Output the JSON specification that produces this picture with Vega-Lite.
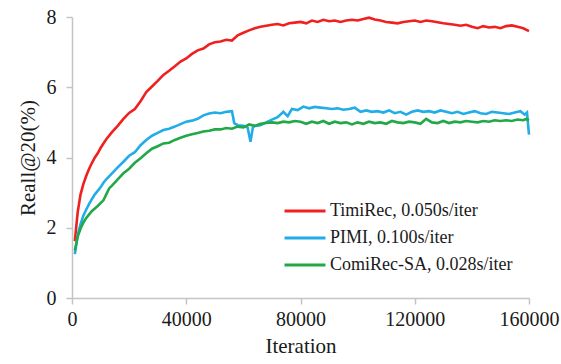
{
  "$schema": "https://vega.github.io/schema/vega-lite/v6.json",
  "autosize": {"type": "none"},
  "width": 457,
  "height": 281,
  "padding": {"left": 72, "top": 17, "right": 32, "bottom": 66},
  "background": "white",
  "config": {
    "view": {"stroke": null},
    "font": "Liberation Serif",
    "axis": {
      "grid": false,
      "domainColor": "#c4c4c4",
      "domainWidth": 1.5,
      "tickColor": "#c4c4c4",
      "tickWidth": 1.5,
      "tickSize": 6,
      "labelFont": "Liberation Serif",
      "labelFontSize": 20,
      "labelColor": "#1a1a1a",
      "titleFont": "Liberation Serif",
      "titleFontSize": 21,
      "titleFontWeight": "normal",
      "titleColor": "#1a1a1a"
    }
  },
  "datasets": {
    "d": [
      {"s":"TimiRec, 0.050s/iter","x":1000,"y":1.62},{"s":"TimiRec, 0.050s/iter","x":2000,"y":2.45},{"s":"TimiRec, 0.050s/iter","x":3000,"y":2.95},{"s":"TimiRec, 0.050s/iter","x":4000,"y":3.25},{"s":"TimiRec, 0.050s/iter","x":5000,"y":3.48},{"s":"TimiRec, 0.050s/iter","x":6000,"y":3.68},{"s":"TimiRec, 0.050s/iter","x":7000,"y":3.85},{"s":"TimiRec, 0.050s/iter","x":8000,"y":4.0},{"s":"TimiRec, 0.050s/iter","x":9000,"y":4.12},{"s":"TimiRec, 0.050s/iter","x":10000,"y":4.27},{"s":"TimiRec, 0.050s/iter","x":11000,"y":4.4},{"s":"TimiRec, 0.050s/iter","x":12000,"y":4.52},{"s":"TimiRec, 0.050s/iter","x":14000,"y":4.72},{"s":"TimiRec, 0.050s/iter","x":16000,"y":4.9},{"s":"TimiRec, 0.050s/iter","x":18000,"y":5.1},{"s":"TimiRec, 0.050s/iter","x":20000,"y":5.27},{"s":"TimiRec, 0.050s/iter","x":22000,"y":5.38},{"s":"TimiRec, 0.050s/iter","x":24000,"y":5.6},{"s":"TimiRec, 0.050s/iter","x":26000,"y":5.86},{"s":"TimiRec, 0.050s/iter","x":28000,"y":6.02},{"s":"TimiRec, 0.050s/iter","x":30000,"y":6.18},{"s":"TimiRec, 0.050s/iter","x":32000,"y":6.35},{"s":"TimiRec, 0.050s/iter","x":34000,"y":6.47},{"s":"TimiRec, 0.050s/iter","x":36000,"y":6.6},{"s":"TimiRec, 0.050s/iter","x":38000,"y":6.73},{"s":"TimiRec, 0.050s/iter","x":40000,"y":6.82},{"s":"TimiRec, 0.050s/iter","x":42000,"y":6.95},{"s":"TimiRec, 0.050s/iter","x":44000,"y":7.05},{"s":"TimiRec, 0.050s/iter","x":46000,"y":7.1},{"s":"TimiRec, 0.050s/iter","x":48000,"y":7.22},{"s":"TimiRec, 0.050s/iter","x":50000,"y":7.28},{"s":"TimiRec, 0.050s/iter","x":52000,"y":7.3},{"s":"TimiRec, 0.050s/iter","x":54000,"y":7.35},{"s":"TimiRec, 0.050s/iter","x":56000,"y":7.33},{"s":"TimiRec, 0.050s/iter","x":58000,"y":7.48},{"s":"TimiRec, 0.050s/iter","x":60000,"y":7.55},{"s":"TimiRec, 0.050s/iter","x":62000,"y":7.62},{"s":"TimiRec, 0.050s/iter","x":64000,"y":7.68},{"s":"TimiRec, 0.050s/iter","x":66000,"y":7.72},{"s":"TimiRec, 0.050s/iter","x":68000,"y":7.75},{"s":"TimiRec, 0.050s/iter","x":70000,"y":7.78},{"s":"TimiRec, 0.050s/iter","x":72000,"y":7.8},{"s":"TimiRec, 0.050s/iter","x":74000,"y":7.76},{"s":"TimiRec, 0.050s/iter","x":76000,"y":7.82},{"s":"TimiRec, 0.050s/iter","x":78000,"y":7.84},{"s":"TimiRec, 0.050s/iter","x":80000,"y":7.86},{"s":"TimiRec, 0.050s/iter","x":82000,"y":7.82},{"s":"TimiRec, 0.050s/iter","x":84000,"y":7.9},{"s":"TimiRec, 0.050s/iter","x":86000,"y":7.86},{"s":"TimiRec, 0.050s/iter","x":88000,"y":7.92},{"s":"TimiRec, 0.050s/iter","x":90000,"y":7.88},{"s":"TimiRec, 0.050s/iter","x":92000,"y":7.9},{"s":"TimiRec, 0.050s/iter","x":94000,"y":7.86},{"s":"TimiRec, 0.050s/iter","x":96000,"y":7.9},{"s":"TimiRec, 0.050s/iter","x":98000,"y":7.92},{"s":"TimiRec, 0.050s/iter","x":100000,"y":7.9},{"s":"TimiRec, 0.050s/iter","x":102000,"y":7.94},{"s":"TimiRec, 0.050s/iter","x":104000,"y":7.98},{"s":"TimiRec, 0.050s/iter","x":106000,"y":7.93},{"s":"TimiRec, 0.050s/iter","x":108000,"y":7.9},{"s":"TimiRec, 0.050s/iter","x":110000,"y":7.86},{"s":"TimiRec, 0.050s/iter","x":112000,"y":7.84},{"s":"TimiRec, 0.050s/iter","x":114000,"y":7.82},{"s":"TimiRec, 0.050s/iter","x":116000,"y":7.86},{"s":"TimiRec, 0.050s/iter","x":118000,"y":7.88},{"s":"TimiRec, 0.050s/iter","x":120000,"y":7.9},{"s":"TimiRec, 0.050s/iter","x":122000,"y":7.86},{"s":"TimiRec, 0.050s/iter","x":124000,"y":7.9},{"s":"TimiRec, 0.050s/iter","x":126000,"y":7.88},{"s":"TimiRec, 0.050s/iter","x":128000,"y":7.85},{"s":"TimiRec, 0.050s/iter","x":130000,"y":7.82},{"s":"TimiRec, 0.050s/iter","x":132000,"y":7.8},{"s":"TimiRec, 0.050s/iter","x":134000,"y":7.78},{"s":"TimiRec, 0.050s/iter","x":136000,"y":7.75},{"s":"TimiRec, 0.050s/iter","x":138000,"y":7.78},{"s":"TimiRec, 0.050s/iter","x":140000,"y":7.72},{"s":"TimiRec, 0.050s/iter","x":142000,"y":7.68},{"s":"TimiRec, 0.050s/iter","x":144000,"y":7.74},{"s":"TimiRec, 0.050s/iter","x":146000,"y":7.7},{"s":"TimiRec, 0.050s/iter","x":148000,"y":7.72},{"s":"TimiRec, 0.050s/iter","x":150000,"y":7.68},{"s":"TimiRec, 0.050s/iter","x":152000,"y":7.74},{"s":"TimiRec, 0.050s/iter","x":154000,"y":7.76},{"s":"TimiRec, 0.050s/iter","x":156000,"y":7.72},{"s":"TimiRec, 0.050s/iter","x":158000,"y":7.68},{"s":"TimiRec, 0.050s/iter","x":160000,"y":7.6},
      {"s":"PIMI, 0.100s/iter","x":1000,"y":1.25},{"s":"PIMI, 0.100s/iter","x":2000,"y":1.8},{"s":"PIMI, 0.100s/iter","x":3000,"y":2.1},{"s":"PIMI, 0.100s/iter","x":4000,"y":2.35},{"s":"PIMI, 0.100s/iter","x":5000,"y":2.52},{"s":"PIMI, 0.100s/iter","x":6000,"y":2.68},{"s":"PIMI, 0.100s/iter","x":7000,"y":2.82},{"s":"PIMI, 0.100s/iter","x":8000,"y":2.95},{"s":"PIMI, 0.100s/iter","x":9000,"y":3.05},{"s":"PIMI, 0.100s/iter","x":10000,"y":3.15},{"s":"PIMI, 0.100s/iter","x":11000,"y":3.28},{"s":"PIMI, 0.100s/iter","x":12000,"y":3.38},{"s":"PIMI, 0.100s/iter","x":14000,"y":3.55},{"s":"PIMI, 0.100s/iter","x":16000,"y":3.72},{"s":"PIMI, 0.100s/iter","x":18000,"y":3.88},{"s":"PIMI, 0.100s/iter","x":20000,"y":4.05},{"s":"PIMI, 0.100s/iter","x":22000,"y":4.15},{"s":"PIMI, 0.100s/iter","x":24000,"y":4.35},{"s":"PIMI, 0.100s/iter","x":26000,"y":4.5},{"s":"PIMI, 0.100s/iter","x":28000,"y":4.62},{"s":"PIMI, 0.100s/iter","x":30000,"y":4.7},{"s":"PIMI, 0.100s/iter","x":32000,"y":4.78},{"s":"PIMI, 0.100s/iter","x":34000,"y":4.82},{"s":"PIMI, 0.100s/iter","x":36000,"y":4.88},{"s":"PIMI, 0.100s/iter","x":38000,"y":4.95},{"s":"PIMI, 0.100s/iter","x":40000,"y":5.02},{"s":"PIMI, 0.100s/iter","x":42000,"y":5.05},{"s":"PIMI, 0.100s/iter","x":44000,"y":5.1},{"s":"PIMI, 0.100s/iter","x":46000,"y":5.2},{"s":"PIMI, 0.100s/iter","x":48000,"y":5.25},{"s":"PIMI, 0.100s/iter","x":50000,"y":5.28},{"s":"PIMI, 0.100s/iter","x":52000,"y":5.26},{"s":"PIMI, 0.100s/iter","x":54000,"y":5.3},{"s":"PIMI, 0.100s/iter","x":56000,"y":5.32},{"s":"PIMI, 0.100s/iter","x":56800,"y":4.98},{"s":"PIMI, 0.100s/iter","x":58000,"y":4.92},{"s":"PIMI, 0.100s/iter","x":60000,"y":4.9},{"s":"PIMI, 0.100s/iter","x":61500,"y":4.85},{"s":"PIMI, 0.100s/iter","x":62500,"y":4.45},{"s":"PIMI, 0.100s/iter","x":63300,"y":4.85},{"s":"PIMI, 0.100s/iter","x":64000,"y":4.9},{"s":"PIMI, 0.100s/iter","x":66000,"y":4.92},{"s":"PIMI, 0.100s/iter","x":68000,"y":5.0},{"s":"PIMI, 0.100s/iter","x":70000,"y":5.08},{"s":"PIMI, 0.100s/iter","x":72000,"y":5.15},{"s":"PIMI, 0.100s/iter","x":74000,"y":5.3},{"s":"PIMI, 0.100s/iter","x":75500,"y":5.18},{"s":"PIMI, 0.100s/iter","x":77000,"y":5.38},{"s":"PIMI, 0.100s/iter","x":79000,"y":5.35},{"s":"PIMI, 0.100s/iter","x":81000,"y":5.45},{"s":"PIMI, 0.100s/iter","x":83000,"y":5.4},{"s":"PIMI, 0.100s/iter","x":85000,"y":5.44},{"s":"PIMI, 0.100s/iter","x":87000,"y":5.42},{"s":"PIMI, 0.100s/iter","x":89000,"y":5.4},{"s":"PIMI, 0.100s/iter","x":91000,"y":5.38},{"s":"PIMI, 0.100s/iter","x":93000,"y":5.4},{"s":"PIMI, 0.100s/iter","x":95000,"y":5.36},{"s":"PIMI, 0.100s/iter","x":97000,"y":5.38},{"s":"PIMI, 0.100s/iter","x":99000,"y":5.42},{"s":"PIMI, 0.100s/iter","x":101000,"y":5.3},{"s":"PIMI, 0.100s/iter","x":103000,"y":5.34},{"s":"PIMI, 0.100s/iter","x":105000,"y":5.3},{"s":"PIMI, 0.100s/iter","x":107000,"y":5.32},{"s":"PIMI, 0.100s/iter","x":109000,"y":5.28},{"s":"PIMI, 0.100s/iter","x":111000,"y":5.34},{"s":"PIMI, 0.100s/iter","x":113000,"y":5.26},{"s":"PIMI, 0.100s/iter","x":115000,"y":5.3},{"s":"PIMI, 0.100s/iter","x":117000,"y":5.22},{"s":"PIMI, 0.100s/iter","x":119000,"y":5.3},{"s":"PIMI, 0.100s/iter","x":121000,"y":5.34},{"s":"PIMI, 0.100s/iter","x":123000,"y":5.3},{"s":"PIMI, 0.100s/iter","x":125000,"y":5.32},{"s":"PIMI, 0.100s/iter","x":127000,"y":5.28},{"s":"PIMI, 0.100s/iter","x":129000,"y":5.34},{"s":"PIMI, 0.100s/iter","x":131000,"y":5.3},{"s":"PIMI, 0.100s/iter","x":133000,"y":5.26},{"s":"PIMI, 0.100s/iter","x":135000,"y":5.3},{"s":"PIMI, 0.100s/iter","x":137000,"y":5.24},{"s":"PIMI, 0.100s/iter","x":139000,"y":5.28},{"s":"PIMI, 0.100s/iter","x":141000,"y":5.32},{"s":"PIMI, 0.100s/iter","x":143000,"y":5.26},{"s":"PIMI, 0.100s/iter","x":145000,"y":5.24},{"s":"PIMI, 0.100s/iter","x":147000,"y":5.3},{"s":"PIMI, 0.100s/iter","x":149000,"y":5.28},{"s":"PIMI, 0.100s/iter","x":151000,"y":5.26},{"s":"PIMI, 0.100s/iter","x":153000,"y":5.24},{"s":"PIMI, 0.100s/iter","x":155000,"y":5.28},{"s":"PIMI, 0.100s/iter","x":157000,"y":5.32},{"s":"PIMI, 0.100s/iter","x":158500,"y":5.22},{"s":"PIMI, 0.100s/iter","x":159300,"y":5.28},{"s":"PIMI, 0.100s/iter","x":160000,"y":4.65},
      {"s":"ComiRec-SA, 0.028s/iter","x":1000,"y":1.35},{"s":"ComiRec-SA, 0.028s/iter","x":2000,"y":1.75},{"s":"ComiRec-SA, 0.028s/iter","x":3000,"y":1.98},{"s":"ComiRec-SA, 0.028s/iter","x":4000,"y":2.15},{"s":"ComiRec-SA, 0.028s/iter","x":5000,"y":2.28},{"s":"ComiRec-SA, 0.028s/iter","x":6000,"y":2.38},{"s":"ComiRec-SA, 0.028s/iter","x":7000,"y":2.48},{"s":"ComiRec-SA, 0.028s/iter","x":8000,"y":2.55},{"s":"ComiRec-SA, 0.028s/iter","x":9000,"y":2.62},{"s":"ComiRec-SA, 0.028s/iter","x":10000,"y":2.7},{"s":"ComiRec-SA, 0.028s/iter","x":11000,"y":2.78},{"s":"ComiRec-SA, 0.028s/iter","x":12000,"y":2.95},{"s":"ComiRec-SA, 0.028s/iter","x":13000,"y":3.12},{"s":"ComiRec-SA, 0.028s/iter","x":14000,"y":3.2},{"s":"ComiRec-SA, 0.028s/iter","x":16000,"y":3.38},{"s":"ComiRec-SA, 0.028s/iter","x":18000,"y":3.55},{"s":"ComiRec-SA, 0.028s/iter","x":20000,"y":3.68},{"s":"ComiRec-SA, 0.028s/iter","x":22000,"y":3.85},{"s":"ComiRec-SA, 0.028s/iter","x":24000,"y":3.98},{"s":"ComiRec-SA, 0.028s/iter","x":26000,"y":4.12},{"s":"ComiRec-SA, 0.028s/iter","x":28000,"y":4.25},{"s":"ComiRec-SA, 0.028s/iter","x":30000,"y":4.32},{"s":"ComiRec-SA, 0.028s/iter","x":32000,"y":4.4},{"s":"ComiRec-SA, 0.028s/iter","x":34000,"y":4.42},{"s":"ComiRec-SA, 0.028s/iter","x":36000,"y":4.5},{"s":"ComiRec-SA, 0.028s/iter","x":38000,"y":4.56},{"s":"ComiRec-SA, 0.028s/iter","x":40000,"y":4.62},{"s":"ComiRec-SA, 0.028s/iter","x":42000,"y":4.66},{"s":"ComiRec-SA, 0.028s/iter","x":44000,"y":4.7},{"s":"ComiRec-SA, 0.028s/iter","x":46000,"y":4.74},{"s":"ComiRec-SA, 0.028s/iter","x":48000,"y":4.76},{"s":"ComiRec-SA, 0.028s/iter","x":50000,"y":4.8},{"s":"ComiRec-SA, 0.028s/iter","x":52000,"y":4.8},{"s":"ComiRec-SA, 0.028s/iter","x":54000,"y":4.84},{"s":"ComiRec-SA, 0.028s/iter","x":56000,"y":4.82},{"s":"ComiRec-SA, 0.028s/iter","x":58000,"y":4.88},{"s":"ComiRec-SA, 0.028s/iter","x":60000,"y":4.86},{"s":"ComiRec-SA, 0.028s/iter","x":62000,"y":4.94},{"s":"ComiRec-SA, 0.028s/iter","x":64000,"y":4.9},{"s":"ComiRec-SA, 0.028s/iter","x":66000,"y":4.96},{"s":"ComiRec-SA, 0.028s/iter","x":68000,"y":4.98},{"s":"ComiRec-SA, 0.028s/iter","x":70000,"y":5.0},{"s":"ComiRec-SA, 0.028s/iter","x":72000,"y":4.98},{"s":"ComiRec-SA, 0.028s/iter","x":74000,"y":5.02},{"s":"ComiRec-SA, 0.028s/iter","x":76000,"y":5.0},{"s":"ComiRec-SA, 0.028s/iter","x":78000,"y":5.04},{"s":"ComiRec-SA, 0.028s/iter","x":80000,"y":5.02},{"s":"ComiRec-SA, 0.028s/iter","x":82000,"y":4.96},{"s":"ComiRec-SA, 0.028s/iter","x":84000,"y":5.02},{"s":"ComiRec-SA, 0.028s/iter","x":86000,"y":4.98},{"s":"ComiRec-SA, 0.028s/iter","x":88000,"y":5.04},{"s":"ComiRec-SA, 0.028s/iter","x":90000,"y":4.96},{"s":"ComiRec-SA, 0.028s/iter","x":92000,"y":5.02},{"s":"ComiRec-SA, 0.028s/iter","x":94000,"y":4.98},{"s":"ComiRec-SA, 0.028s/iter","x":96000,"y":5.0},{"s":"ComiRec-SA, 0.028s/iter","x":98000,"y":4.94},{"s":"ComiRec-SA, 0.028s/iter","x":100000,"y":5.0},{"s":"ComiRec-SA, 0.028s/iter","x":102000,"y":4.96},{"s":"ComiRec-SA, 0.028s/iter","x":104000,"y":5.02},{"s":"ComiRec-SA, 0.028s/iter","x":106000,"y":4.98},{"s":"ComiRec-SA, 0.028s/iter","x":108000,"y":5.0},{"s":"ComiRec-SA, 0.028s/iter","x":110000,"y":4.96},{"s":"ComiRec-SA, 0.028s/iter","x":112000,"y":5.04},{"s":"ComiRec-SA, 0.028s/iter","x":114000,"y":5.0},{"s":"ComiRec-SA, 0.028s/iter","x":116000,"y":4.98},{"s":"ComiRec-SA, 0.028s/iter","x":118000,"y":5.02},{"s":"ComiRec-SA, 0.028s/iter","x":120000,"y":5.0},{"s":"ComiRec-SA, 0.028s/iter","x":122000,"y":4.96},{"s":"ComiRec-SA, 0.028s/iter","x":124000,"y":5.1},{"s":"ComiRec-SA, 0.028s/iter","x":126000,"y":5.0},{"s":"ComiRec-SA, 0.028s/iter","x":128000,"y":4.98},{"s":"ComiRec-SA, 0.028s/iter","x":130000,"y":5.04},{"s":"ComiRec-SA, 0.028s/iter","x":132000,"y":4.98},{"s":"ComiRec-SA, 0.028s/iter","x":134000,"y":5.02},{"s":"ComiRec-SA, 0.028s/iter","x":136000,"y":5.0},{"s":"ComiRec-SA, 0.028s/iter","x":138000,"y":5.04},{"s":"ComiRec-SA, 0.028s/iter","x":140000,"y":5.02},{"s":"ComiRec-SA, 0.028s/iter","x":142000,"y":5.0},{"s":"ComiRec-SA, 0.028s/iter","x":144000,"y":5.04},{"s":"ComiRec-SA, 0.028s/iter","x":146000,"y":5.02},{"s":"ComiRec-SA, 0.028s/iter","x":148000,"y":5.06},{"s":"ComiRec-SA, 0.028s/iter","x":150000,"y":5.04},{"s":"ComiRec-SA, 0.028s/iter","x":152000,"y":5.06},{"s":"ComiRec-SA, 0.028s/iter","x":154000,"y":5.04},{"s":"ComiRec-SA, 0.028s/iter","x":156000,"y":5.08},{"s":"ComiRec-SA, 0.028s/iter","x":158000,"y":5.06},{"s":"ComiRec-SA, 0.028s/iter","x":159000,"y":5.1},{"s":"ComiRec-SA, 0.028s/iter","x":160000,"y":5.06}
    ]
  },
  "data": {"name": "d"},
  "mark": {"type": "line", "strokeWidth": 2.6, "interpolate": "linear"},
  "encoding": {
    "x": {
      "field": "x",
      "type": "quantitative",
      "title": "Iteration",
      "scale": {"domain": [0, 160000], "nice": false},
      "axis": {"values": [0, 40000, 80000, 120000, 160000], "format": "d", "labelPadding": 5, "titlePadding": 6, "labelFlush": false}
    },
    "y": {
      "field": "y",
      "type": "quantitative",
      "title": "Reall@20(%)",
      "scale": {"domain": [0, 8], "nice": false},
      "axis": {"values": [0, 2, 4, 6, 8], "labelPadding": 10, "titlePadding": 8}
    },
    "color": {
      "field": "s",
      "type": "nominal",
      "sort": ["TimiRec, 0.050s/iter", "PIMI, 0.100s/iter", "ComiRec-SA, 0.028s/iter"],
      "scale": {
        "domain": ["TimiRec, 0.050s/iter", "PIMI, 0.100s/iter", "ComiRec-SA, 0.028s/iter"],
        "range": ["#F02020", "#22ACE8", "#22A846"]
      },
      "legend": {
        "title": null,
        "orient": "none",
        "legendX": 221,
        "legendY": 182,
        "symbolType": "M-2,0H2",
        "symbolSize": 420,
        "symbolStrokeWidth": 3,
        "labelFont": "Liberation Serif",
        "labelFontSize": 18,
        "labelColor": "#1a1a1a",
        "labelOffset": 13,
        "rowPadding": 6,
        "labelLimit": 300
      }
    }
  }
}
